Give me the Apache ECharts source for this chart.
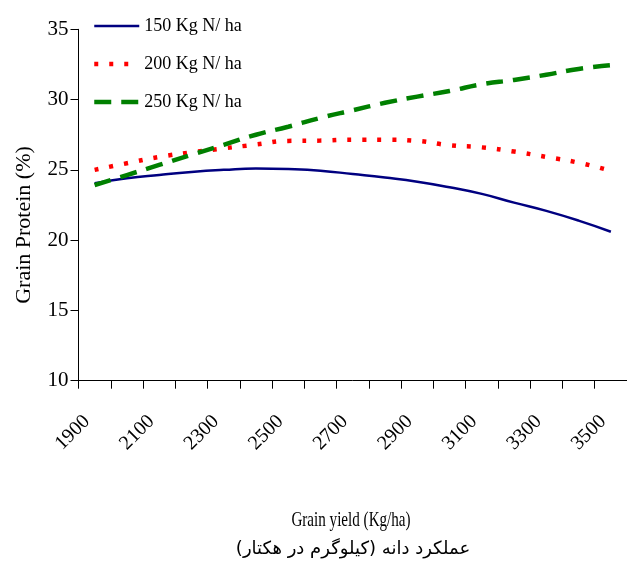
<!DOCTYPE html>
<html dir="ltr">
<head>
<meta charset="utf-8">
<script src="https://cdn.jsdelivr.net/npm/echarts@6/dist/echarts.min.js"></script>
<style>
  html, body { margin: 0; padding: 0; background: #fff; }
  #chart { width: 627px; height: 574px; direction: ltr; }
</style>
</head>
<body>
<div id="chart"></div>
<script>
// Grain yield categories (Kg/ha)
const categories = ['1900','2000','2100','2200','2300','2400','2500','2600','2700',
                    '2800','2900','3000','3100','3200','3300','3400','3500'];
// Grain protein (%) per nitrogen level
const n150 = [24.05, 24.4, 24.64, 24.85, 25.0, 25.1, 25.06, 24.94, 24.7, 24.45, 24.16, 23.76, 23.29, 22.67, 22.08, 21.39, 20.6];
const n200 = [25.0, 25.47, 25.92, 26.25, 26.53, 26.8, 27.06, 27.08, 27.15, 27.15, 27.06, 26.75, 26.6, 26.3, 25.92, 25.51, 24.93];
const n250 = [23.92, 24.63, 25.35, 26.07, 26.78, 27.5, 28.07, 28.7, 29.24, 29.77, 30.21, 30.61, 31.09, 31.4, 31.77, 32.18, 32.44];
const seriesNames = ['150 Kg N/ ha', '200 Kg N/ ha', '250 Kg N/ ha'];
const seriesColors = ['#000080', '#ff0000', '#008000'];
const seriesWidths = [2.5, 4.5, 4.5];
const seriesDash = ['solid', [4, 11], [17, 10]];
const yMin = 10, yMax = 35, yStep = 5;
const xTitle = 'Grain yield (Kg/ha)';
const xTitleFa = 'عملکرد دانه (کیلوگرم در هکتار)';
const yTitle = 'Grain Protein (%)';

const serif = '"Liberation Serif", "Times New Roman", serif';
const chart = echarts.init(document.getElementById('chart'), null, { renderer: 'canvas' });

const seriesData = [n150, n200, n250];

chart.setOption({
  backgroundColor: '#ffffff',
  animation: false,
  grid: { left: 78.5, top: 29.3, width: 552.5, height: 351.4, containLabel: false },
  legend: {
    orient: 'vertical',
    left: 92,
    top: 17,
    padding: 0,
    itemWidth: 45,
    itemHeight: 14,
    itemGap: 20,
    data: seriesNames.map((n, i) => ({
      name: n,
      itemStyle: { opacity: 0, borderWidth: 0 },
      lineStyle: { color: seriesColors[i], width: seriesWidths[i], type: seriesDash[i], cap: 'butt', opacity: 1 }
    })),
    textStyle: { fontFamily: serif, fontSize: 18, color: '#000' }
  },
  xAxis: {
    type: 'category',
    data: categories,
    boundaryGap: true,
    axisLine: { show: true, lineStyle: { color: '#000', width: 1 } },
    axisTick: { show: true, interval: 0, length: 8, lineStyle: { color: '#000', width: 1 } },
    axisLabel: {
      interval: 1, rotate: 45, margin: 30, padding: [0, 11, 0, 0],
      fontFamily: serif, fontSize: 20, color: '#000'
    },
    splitLine: { show: false }
  },
  yAxis: {
    type: 'value',
    min: yMin, max: yMax, interval: yStep,
    axisLine: { show: true, lineStyle: { color: '#000', width: 1 } },
    axisTick: { show: true, length: 8, lineStyle: { color: '#000', width: 1 } },
    axisLabel: { margin: 10, fontFamily: serif, fontSize: 21, color: '#000' },
    splitLine: { show: false }
  },
  series: seriesNames.map((n, i) => ({
    name: n, type: 'line', data: seriesData[i], smooth: true,
    symbol: 'none', showSymbol: false,
    lineStyle: { color: seriesColors[i], width: seriesWidths[i], type: seriesDash[i], cap: 'butt' },
    itemStyle: { color: seriesColors[i] }
  })),
  graphic: [
    {
      type: 'text', x: 24, y: 225, rotation: Math.PI / 2,
      style: { text: yTitle, x: 0, y: 0, font: '22px ' + serif,
               fill: '#000', align: 'center', verticalAlign: 'middle' }
    },
    {
      type: 'text', x: 351, y: 520, scaleX: 0.72,
      style: { text: xTitle, x: 0, y: 0, font: '21px ' + serif,
               fill: '#000', align: 'center', verticalAlign: 'middle' }
    },
    {
      type: 'text', x: 353, y: 549,
      style: { text: '\u202B' + xTitleFa + '\u202C', x: 0, y: 0,
               font: '18px "DejaVu Sans", sans-serif',
               fill: '#000', align: 'center', verticalAlign: 'middle' }
    }
  ]
});
</script>
</body>
</html>
